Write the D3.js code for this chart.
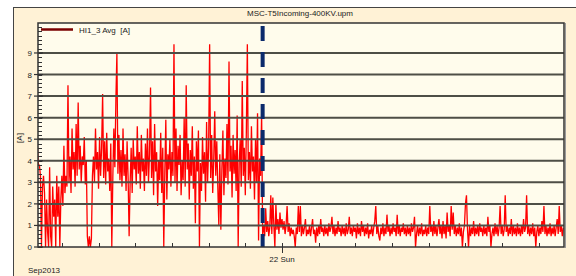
<!DOCTYPE html>
<html><head><meta charset="utf-8">
<script src="https://cdn.jsdelivr.net/npm/d3@7"></script>
<style>
body{margin:0;background:#fff}
svg{display:block;font-family:"Liberation Sans",Arial,sans-serif}
</style>
</head><body><svg id="c" width="576" height="276"></svg>
<script>
const chartTitle = "MSC-T5Incoming-400KV.upm";
const seriesName = "HI1_3 Avg  [A]";
const yLabel = "[A]";
const yTicks = [0,1,2,3,4,5,6,7,8,9];
const startTime = "2013-09-21T04:00:00";
const endTime = "2013-09-22T23:00:00";
const stepMinutes = 5;
const markerTime = "2013-09-21T22:25:00";
const dayTickTime = "2013-09-22T00:00:00";
const dayTickLabel = "22 Sun";
const periodLabel = "Sep2013";

const valuesBefore = [
4.7,3.8,3.8,3.3,0.0,2.8,3.3,2.5,0.0,2.2,
0.7,0.0,3.7,0.5,0.0,2.8,1.4,2.2,0.0,3.3,
1.4,2.8,0.0,2.2,3.3,1.9,4.7,2.5,3.3,2.8,
7.5,3.0,4.2,2.5,5.5,3.6,4.4,2.8,5.7,3.3,
6.7,3.6,4.7,3.0,4.2,3.8,5.1,2.9,4.0,0.5,
0.0,0.5,0.0,0.4,3.3,4.2,3.0,5.5,3.6,4.4,
2.7,5.1,3.3,4.6,7.1,3.2,4.9,2.9,5.3,3.5,
4.1,2.6,4.8,0.0,3.2,5.5,3.7,6.8,9.0,3.4,
5.2,3.1,4.5,2.8,5.5,3.3,4.3,2.6,4.9,3.2,
0.5,3.0,4.6,2.5,5.0,3.6,4.2,2.9,5.6,3.4,
4.4,2.7,5.2,3.5,4.1,2.6,4.8,3.3,5.5,3.0,
4.3,7.4,3.2,4.9,2.4,5.7,3.5,4.4,1.9,4.0,
3.1,5.3,2.5,4.6,0.0,3.4,5.9,2.2,4.3,3.6,
5.0,2.8,4.4,3.3,9.4,3.0,5.5,2.6,4.7,3.8,
5.2,2.4,4.0,3.1,6.0,2.8,7.5,3.6,4.8,2.2,
4.5,3.3,5.6,2.7,4.2,1.1,4.9,3.5,5.4,0.0,
3.9,2.6,5.1,3.4,4.4,2.1,5.8,3.0,4.6,9.4,
3.2,5.2,2.5,4.0,6.3,3.3,4.9,2.8,1.0,4.3,
0.8,3.6,5.4,2.4,4.1,3.2,5.7,2.9,8.6,3.5,
4.7,2.3,5.2,3.4,4.5,2.6,6.1,0.0,3.9,5.0,
2.8,7.7,3.3,4.6,2.4,5.3,9.4,3.1,4.4,2.7,
5.6,3.5,4.2,2.2,5.0,3.0,6.2,0.3,4.1,3.3,
6.2
];
const valuesAfter = [
0.6,1.0,0.5,1.8,0.7,1.2,0.5,0.9,2.4,0.6,
2.3,1.0,0.0,2.0,0.8,1.3,0.6,1.6,0.9,1.3,
0.8,1.2,0.6,1.0,1.9,0.7,1.1,0.5,0.9,0.6,
0.8,0.5,0.0,0.9,0.6,1.9,0.7,1.9,0.5,1.0,
0.6,0.9,1.3,0.5,0.8,0.6,1.0,0.5,0.9,1.3,
0.6,0.8,0.2,0.9,0.5,1.0,0.6,1.3,0.7,0.9,
0.5,1.0,0.6,0.9,0.5,1.1,0.7,0.9,1.4,0.6,
1.0,0.5,0.9,0.6,1.2,0.7,0.9,0.5,1.0,0.6,
0.9,0.5,1.1,0.6,0.8,1.4,0.6,0.9,0.5,1.0,
0.7,0.9,0.4,1.1,0.6,0.9,0.5,1.2,0.7,1.0,
0.5,0.9,0.6,1.1,0.4,0.8,0.6,1.0,0.5,0.9,
1.2,1.9,0.6,1.0,0.5,0.3,0.9,0.6,1.1,0.5,
0.9,0.6,1.5,0.7,1.0,0.5,0.9,0.6,1.1,0.7,
0.9,0.5,1.5,0.6,1.0,0.5,0.9,0.7,1.1,0.6,
0.9,0.5,1.0,0.6,0.9,0.5,1.1,0.7,0.9,1.4,
0.0,0.6,1.0,0.5,0.9,0.6,1.1,0.5,0.8,0.6,
1.0,0.5,0.9,0.6,1.9,0.7,1.0,0.5,1.2,0.6,
1.0,0.5,0.9,1.3,0.6,1.0,0.4,1.2,0.6,1.0,
0.4,1.6,0.7,1.0,0.5,1.9,0.8,1.6,0.6,1.0,
0.5,0.9,0.6,1.1,0.5,0.9,0.0,0.7,1.0,2.0,
2.4,0.8,0.0,1.0,0.5,0.9,0.6,1.2,0.5,0.9,
0.6,1.0,0.5,1.1,0.7,0.9,0.5,1.0,0.6,0.9,
0.5,1.4,0.7,1.0,0.0,0.6,0.9,0.5,1.1,0.6,
1.0,0.5,0.9,1.9,0.6,1.0,0.5,0.8,2.4,0.7,
1.0,0.5,0.9,0.6,1.3,0.5,1.0,0.6,0.9,0.5,
1.1,0.6,0.9,0.5,1.0,0.6,1.3,0.7,0.9,2.4,
0.6,1.0,0.5,0.9,0.6,1.1,0.5,0.9,0.0,0.7,
1.0,0.5,0.9,0.6,1.2,0.7,1.9,0.6,1.0,0.5,
0.9,0.6,1.1,0.5,0.9,0.6,1.0,0.5,0.9,1.3,
0.6,1.9,0.7,1.0,0.5,0.9
];

const svg = d3.select("#c");
const W = 576, H = 276;
const plot = {l: 38, t: 23, r: 564, b: 247};

const t0 = new Date(startTime);
const data = valuesBefore.concat(valuesAfter).map((v, i) => ({
  t: d3.timeMinute.offset(t0, i * stepMinutes), v
}));

const x = d3.scaleTime().domain([new Date(startTime), new Date(endTime)]).range([plot.l - 0.6, plot.r - 0.7]);
const y = d3.scaleLinear().domain([0, 10.39]).range([plot.b, plot.t]);

// outer panel
svg.append("rect").attr("x", 13).attr("y", 7).attr("width", W - 13).attr("height", H - 7).attr("fill", "#fff2d6");
svg.append("line").attr("x1", 13).attr("x2", W).attr("y1", 7.5).attr("y2", 7.5).attr("stroke", "#444").attr("stroke-width", 1);
svg.append("line").attr("x1", 13.5).attr("x2", 13.5).attr("y1", 7).attr("y2", H).attr("stroke", "#444").attr("stroke-width", 1);

// title
svg.append("text").attr("x", 300).attr("y", 16).attr("text-anchor", "middle")
  .attr("font-size", 8).attr("fill", "#222").text(chartTitle);

// plot background
svg.append("rect").attr("x", plot.l).attr("y", plot.t).attr("width", plot.r - plot.l).attr("height", plot.b - plot.t).attr("fill", "#fffcec");

// clip
svg.append("clipPath").attr("id", "clip").append("rect")
  .attr("x", plot.l).attr("y", plot.t).attr("width", plot.r - plot.l).attr("height", plot.b - plot.t);

// data line
const line = d3.line().x(d => x(d.t)).y(d => y(d.v));
svg.append("path").datum(data).attr("clip-path", "url(#clip)")
  .attr("fill", "none").attr("stroke", "#ff0000").attr("stroke-width", 1.3).attr("d", line);

// grid lines
svg.append("g").selectAll("line").data(yTicks.filter(d => d > 0)).join("line")
  .attr("x1", plot.l).attr("x2", plot.r).attr("y1", d => y(d)).attr("y2", d => y(d))
  .attr("stroke", "#4e4e46").attr("stroke-width", 2);

// marker dashed line
const mx = x(new Date(markerTime));
svg.append("line").attr("x1", mx).attr("x2", mx).attr("y1", plot.t).attr("y2", plot.b)
  .attr("stroke", "#0b2a6b").attr("stroke-width", 4).attr("stroke-dasharray", "15,11").attr("stroke-dashoffset", 23);

// y axis minor ticks
const minor = d3.range(0, 10.4, 0.2);
svg.append("g").selectAll("line").data(minor).join("line")
  .attr("x1", plot.l).attr("x2", plot.l + 4).attr("y1", d => Math.round(y(d)) + 0.5).attr("y2", d => Math.round(y(d)) + 0.5)
  .attr("stroke", "#333").attr("stroke-width", 1);
// y major ticks + labels
const yg = svg.append("g");
yg.selectAll("line").data(yTicks).join("line")
  .attr("x1", plot.l - 4).attr("x2", plot.l + 5).attr("y1", d => y(d)).attr("y2", d => y(d))
  .attr("stroke", "#333").attr("stroke-width", 1.2);
yg.selectAll("text").data(yTicks).join("text")
  .attr("x", plot.l - 6).attr("y", d => y(d) + 3).attr("text-anchor", "end")
  .attr("font-size", 8).attr("fill", "#222").text(d => d);

// y label
svg.append("text").attr("transform", `translate(22,138) rotate(-90)`).attr("text-anchor", "middle")
  .attr("font-size", 8).attr("fill", "#222").text(yLabel);

// x ticks
const xt = x.ticks(d3.timeHour.every(3));
svg.append("g").selectAll("line").data(xt).join("line")
  .attr("x1", d => Math.round(x(d)) + 0.5).attr("x2", d => Math.round(x(d)) + 0.5)
  .attr("y1", plot.b - 4).attr("y2", d => +d === +new Date(dayTickTime) ? plot.b + 6 : plot.b)
  .attr("stroke", "#333").attr("stroke-width", 1);
svg.append("text").attr("x", x(new Date(dayTickTime))).attr("y", 262).attr("text-anchor", "middle")
  .attr("font-size", 8).attr("fill", "#222").text(dayTickLabel);
svg.append("text").attr("x", 28).attr("y", 273)
  .attr("font-size", 8).attr("fill", "#222").text(periodLabel);

// plot border
svg.append("rect").attr("x", plot.l).attr("y", plot.t).attr("width", plot.r - plot.l).attr("height", plot.b - plot.t)
  .attr("fill", "none").attr("stroke", "#333").attr("stroke-width", 1.5);
svg.append("line").attr("x1", plot.r + 1.5).attr("x2", plot.r + 1.5).attr("y1", plot.t).attr("y2", plot.b + 1)
  .attr("stroke", "#999").attr("stroke-width", 1);

// legend
svg.append("line").attr("x1", plot.l + 3).attr("x2", plot.l + 35).attr("y1", 29.5).attr("y2", 29.5)
  .attr("stroke", "#7a0000").attr("stroke-width", 2.5);
svg.append("text").attr("x", plot.l + 41).attr("y", 32.5).attr("xml:space", "preserve").style("white-space", "pre")
  .attr("font-size", 8).attr("fill", "#222").text(seriesName);
</script>
</body></html>
